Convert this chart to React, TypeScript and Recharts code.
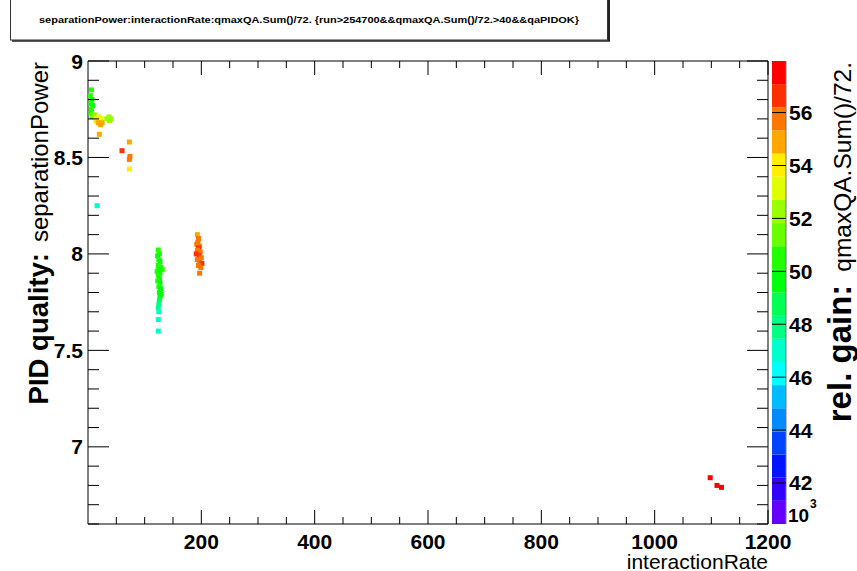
import React from "react";
import { ScatterChart, Scatter, XAxis, YAxis, BarChart, Bar } from "recharts";

const FONT = "'Liberation Sans', Arial, Helvetica, sans-serif";

const TITLE =
  "separationPower:interactionRate:qmaxQA.Sum()/72. {run>254700&&qmaxQA.Sum()/72.>40&&qaPIDOK}";

// interactionRate (x)
const interactionRate = [
  6, 4, 7, 5, 8, 6, 5, 9, 7, 12, 15, 19, 23, 14, 18, 22, 25, 33, 37, 41, 38, 20, 73, 60, 74, 73, 73, 16,
  124, 126, 123, 125, 127, 124, 128, 131, 125, 122, 127, 124, 126, 123, 127, 125, 128, 126, 129, 127, 126, 125, 124, 125, 124, 124,
  193, 195, 194, 192, 197, 195, 193, 198, 191, 196, 200, 193, 197, 201, 195, 199, 197,
  1098, 1110, 1118,
];
// separationPower (y)
const separationPower = [
  8.85, 8.82, 8.8, 8.78, 8.77, 8.75, 8.73, 8.72, 8.71, 8.72, 8.7, 8.71, 8.7, 8.69, 8.68, 8.67, 8.68, 8.7, 8.71, 8.7, 8.69, 8.62, 8.58, 8.535, 8.505, 8.49, 8.44, 8.25,
  8.02, 8.0, 7.99, 7.97, 7.96, 7.94, 7.93, 7.92, 7.92, 7.91, 7.9, 7.89, 7.87, 7.86, 7.85, 7.83, 7.82, 7.8, 7.79, 7.78, 7.76, 7.74, 7.72, 7.7, 7.66, 7.6,
  8.1, 8.08, 8.06, 8.05, 8.04, 8.03, 8.02, 8.01, 8.0, 7.99, 7.98, 7.97, 7.96, 7.95, 7.94, 7.93, 7.9,
  6.84, 6.8, 6.79,
];
// qmaxQA.Sum()/72. (colour)
const relGain = [
  50.3, 50.1, 49.9, 50.4, 50.0, 50.6, 50.2, 51.0, 51.6, 52.5, 53.2, 53.6, 52.8, 54.3, 54.8, 55.2, 54.6, 52.4, 52.2, 51.9, 52.6, 55.3, 54.7, 56.8, 55.6, 55.4, 54.0, 47.1,
  50.2, 50.5, 50.0, 50.3, 49.9, 50.6, 50.1, 50.4, 49.8, 50.2, 50.0, 50.5, 49.7, 50.1, 49.9, 50.3, 49.6, 49.8, 49.5, 49.9, 48.7, 48.2, 47.6, 47.2, 46.9, 46.8,
  55.0, 55.7, 55.9, 55.6, 56.0, 56.5, 55.8, 55.9, 56.3, 56.7, 55.8, 56.1, 55.6, 56.4, 55.9, 55.5, 55.8,
  57.6, 57.8, 57.5,
];

const xTicks = [50, 100, 150, 200, 250, 300, 350, 400, 450, 500, 550, 600, 650, 700, 750, 800, 850, 900, 950, 1000, 1050, 1100, 1150, 1200];
const xLabelTicks = [200, 400, 600, 800, 1000, 1200];
const yTicks = [6.6, 6.7, 6.8, 6.9, 7, 7.1, 7.2, 7.3, 7.4, 7.5, 7.6, 7.7, 7.8, 7.9, 8, 8.1, 8.2, 8.3, 8.4, 8.5, 8.6, 8.7, 8.8, 8.9, 9];
const yLabelTicks = [7, 7.5, 8, 8.5, 9];
const zTicks = [42, 44, 46, 48, 50, 52, 54, 56];

const X_DOMAIN = [0, 1200];
const Y_DOMAIN = [6.6, 9];
const Z_MIN = 40.45;
const Z_MAX = 57.95;
const N_BANDS = 20;
const Z_STEP = (Z_MAX - Z_MIN) / N_BANDS;

function bandColor(j: number) {
  const i = Math.floor((j + 0.99) * 2.5);
  const hue = 280 - (i + 1) * 5.6;
  return `hsl(${hue}, 100%, 50%)`;
}
function gainColor(z: number) {
  let j = Math.floor((z - Z_MIN) / Z_STEP);
  if (j < 0) j = 0;
  if (j > N_BANDS - 1) j = N_BANDS - 1;
  return bandColor(j);
}

const points = interactionRate.map((x, i) => ({ rate: x, sep: separationPower[i], gain: relGain[i] }));

const bandIndex = Array.from({ length: N_BANDS }, (_, j) => j);
const bandRow: Record<string, any> = { name: "palette" };
bandIndex.forEach((j) => {
  bandRow[`b${j}`] = j === 0 ? Z_MIN + Z_STEP : Z_STEP;
});
const bandData = [bandRow];

const isIn = (arr: number[], v: number) => arr.some((a) => Math.abs(a - v) < 1e-6);

const BottomTick = (p: any) => {
  const major = isIn(xLabelTicks, p.payload.value);
  return (
    <g>
      <line x1={p.x} x2={p.x} y1={p.y} y2={p.y - (major ? 14 : 7)} stroke="#000" strokeWidth={1} />
      {major && (
        <text x={p.x} y={p.y + 25} textAnchor="middle" fontFamily={FONT} fontSize={21} fontWeight="bold" fill="#000">
          {p.payload.value}
        </text>
      )}
    </g>
  );
};
const TopTick = (p: any) => {
  const major = isIn(xLabelTicks, p.payload.value);
  return <line x1={p.x} x2={p.x} y1={p.y} y2={p.y + (major ? 14 : 7)} stroke="#000" strokeWidth={1} />;
};
const LeftTick = (p: any) => {
  const major = isIn(yLabelTicks, p.payload.value);
  return (
    <g>
      <line x1={p.x} x2={p.x + (major ? 21 : 11)} y1={p.y} y2={p.y} stroke="#000" strokeWidth={1} />
      {major && (
        <text x={p.x - 5} y={p.y + 7.5} textAnchor="end" fontFamily={FONT} fontSize={21} fontWeight="bold" fill="#000">
          {p.payload.value}
        </text>
      )}
    </g>
  );
};
const RightTick = (p: any) => {
  const major = isIn(yLabelTicks, p.payload.value);
  return <line x1={p.x} x2={p.x - (major ? 21 : 11)} y1={p.y} y2={p.y} stroke="#000" strokeWidth={1} />;
};
const PaletteTick = (p: any) => (
  <g>
    <line x1={p.x - 14} x2={p.x} y1={p.y} y2={p.y} stroke="#000" strokeWidth={1} />
    <text x={p.x + 3} y={p.y + 7.5} textAnchor="start" fontFamily={FONT} fontSize={21} fontWeight="bold" fill="#000">
      {p.payload.value}
    </text>
  </g>
);

const SquareMarker = (p: any) => {
  if (p.cx == null || p.cy == null) return <g />;
  return <rect x={p.cx - 2.5} y={p.cy - 2.5} width={5} height={5} fill={gainColor(p.payload.gain)} />;
};
const NoMarker = () => <g />;

export default function App() {
  return (
    <div style={{ position: "absolute", left: 0, top: 0, width: 857, height: 571, background: "#fff", overflow: "hidden" }}>
      <div style={{ position: "absolute", left: 0, top: 0 }}>
        <ScatterChart width={857} height={571} margin={{ top: 60, right: 88, bottom: 0, left: 0 }}>
          <XAxis
            xAxisId="main"
            type="number"
            dataKey="rate"
            domain={X_DOMAIN}
            ticks={xTicks}
            interval={0}
            height={47}
            tickSize={0}
            tickMargin={0}
            tickLine={false}
            tick={<BottomTick />}
            axisLine={{ stroke: "#000" }}
            allowDataOverflow
          />
          <XAxis
            xAxisId="top"
            orientation="top"
            type="number"
            dataKey="rate"
            domain={X_DOMAIN}
            ticks={xTicks}
            interval={0}
            height={1}
            tickSize={0}
            tickMargin={0}
            tickLine={false}
            tick={<TopTick />}
            axisLine={{ stroke: "#000" }}
            allowDataOverflow
          />
          <YAxis
            yAxisId="main"
            type="number"
            dataKey="sep"
            domain={Y_DOMAIN}
            ticks={yTicks}
            interval={0}
            width={88}
            tickSize={0}
            tickMargin={0}
            tickLine={false}
            tick={<LeftTick />}
            axisLine={{ stroke: "#000" }}
            allowDataOverflow
          />
          <YAxis
            yAxisId="right"
            orientation="right"
            type="number"
            dataKey="sep"
            domain={Y_DOMAIN}
            ticks={yTicks}
            interval={0}
            width={1}
            tickSize={0}
            tickMargin={0}
            tickLine={false}
            tick={<RightTick />}
            axisLine={{ stroke: "#000" }}
            allowDataOverflow
          />
          <Scatter data={points} xAxisId="top" yAxisId="right" shape={NoMarker} isAnimationActive={false} />
          <Scatter data={points} xAxisId="main" yAxisId="main" shape={SquareMarker} isAnimationActive={false} />
        </ScatterChart>
      </div>

      <div style={{ position: "absolute", left: 772, top: 61 }}>
        <BarChart width={74} height={463} data={bandData} margin={{ top: 0, right: 0, bottom: 0, left: 0 }} barCategoryGap={0}>
          <XAxis dataKey="name" hide />
          <YAxis
            orientation="right"
            type="number"
            domain={[Z_MIN, Z_MAX]}
            allowDataOverflow
            ticks={zTicks}
            interval={0}
            width={60}
            tickSize={0}
            tickMargin={0}
            tickLine={false}
            tick={<PaletteTick />}
            axisLine={{ stroke: "#777" }}
          />
          {bandIndex.map((j) => (
            <Bar key={j} dataKey={`b${j}`} stackId="pal" fill={bandColor(j)} isAnimationActive={false} />
          ))}
        </BarChart>
      </div>

      <svg width={857} height={571} style={{ position: "absolute", left: 0, top: 0, pointerEvents: "none" }}>
        <rect x={10.5} y={-5} width={597} height={45} fill="#fff" stroke="#333" strokeWidth={1} />
        <line x1={609} x2={609} y1={0} y2={41} stroke="#222" strokeWidth={2} />
        <line x1={12} x2={610} y1={41} y2={41} stroke="#222" strokeWidth={1.5} />
        <text x={309} y={23} textAnchor="middle" fontFamily={FONT} fontSize={9} fontWeight="bold" textLength={540} lengthAdjust="spacingAndGlyphs">
          {TITLE}
        </text>

        <text transform="translate(48,62) rotate(-90)" textAnchor="end" fontFamily={FONT} fill="#000">
          <tspan fontSize={27.5} fontWeight="bold">PID quality:</tspan>
          <tspan fontSize={24} dx={11}>separationPower</tspan>
        </text>

        <text transform="translate(851,62) rotate(-90)" textAnchor="end" fontFamily={FONT} fill="#000">
          <tspan fontSize={33} fontWeight="bold">rel. gain:</tspan>
          <tspan fontSize={24.5} dx={13}>qmaxQA.Sum()/72.</tspan>
        </text>

        <text x={768} y={569} textAnchor="end" fontFamily={FONT} fontSize={21}>
          interactionRate
        </text>

        <text x={788} y={522} fontFamily={FONT} fontSize={19} fontWeight="bold">
          10
        </text>
        <text x={810} y={508} fontFamily={FONT} fontSize={12} fontWeight="bold">
          3
        </text>
      </svg>
    </div>
  );
}
